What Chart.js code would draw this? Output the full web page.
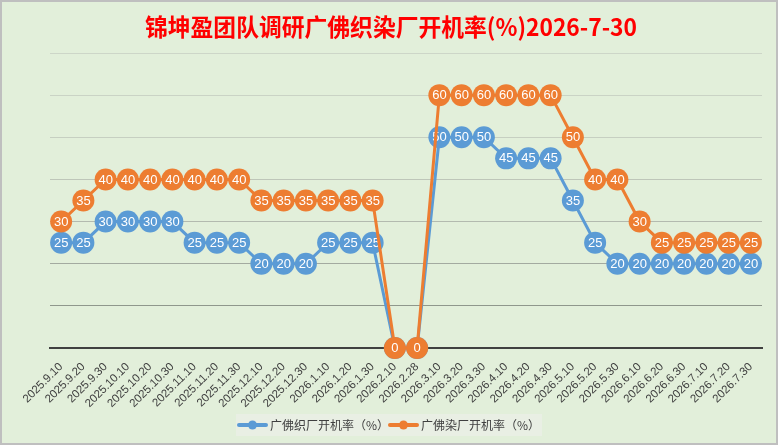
<!DOCTYPE html>
<html>
<head>
<meta charset="utf-8">
<script src="https://cdn.jsdelivr.net/npm/chart.js@4"></script>
<style>
  body { margin: 0; background: #fff; }
  canvas { display: block; }
</style>
</head>
<body>
<canvas id="chart" width="778" height="445"></canvas>
<script>
  // 数据
  const titleText = '锦坤盈团队调研广佛织染厂开机率(%)2026-7-30';
  const dates = [
    '2025.9.10', '2025.9.20', '2025.9.30', '2025.10.10', '2025.10.20', '2025.10.30',
    '2025.11.10', '2025.11.20', '2025.11.30', '2025.12.10', '2025.12.20', '2025.12.30',
    '2026.1.10', '2026.1.20', '2026.1.30', '2026.2.10', '2026.2.28', '2026.3.10',
    '2026.3.20', '2026.3.30', '2026.4.10', '2026.4.20', '2026.4.30', '2026.5.10',
    '2026.5.20', '2026.5.30', '2026.6.10', '2026.6.20', '2026.6.30', '2026.7.10',
    '2026.7.20', '2026.7.30'
  ];
  const weaving = [25, 25, 30, 30, 30, 30, 25, 25, 25, 20, 20, 20, 25, 25, 25, 0, 0,
    50, 50, 50, 45, 45, 45, 35, 25, 20, 20, 20, 20, 20, 20, 20];
  const dyeing = [30, 35, 40, 40, 40, 40, 40, 40, 40, 35, 35, 35, 35, 35, 35, 0, 0,
    60, 60, 60, 60, 60, 60, 50, 40, 40, 30, 25, 25, 25, 25, 25];
  const seriesNames = ['广佛织厂开机率（%）', '广佛染厂开机率（%）'];
  const seriesColors = ['#5B9BD5', '#ED7D31'];

  // 背景、边框、标题、图例
  const decorPlugin = {
    id: 'decor',
    beforeDraw(chart) {
      const ctx = chart.ctx;
      ctx.save();
      ctx.fillStyle = '#E2EFDA';
      ctx.fillRect(0, 0, chart.width, chart.height);
      ctx.strokeStyle = '#BFBFBF';
      ctx.lineWidth = 2;
      ctx.strokeRect(1, 1, chart.width - 2, chart.height - 2);

      // 标题（压窄字体）
      ctx.font = 'bold 24px "Noto Sans CJK SC"';
      ctx.fillStyle = '#FF0000';
      ctx.textBaseline = 'middle';
      const w = ctx.measureText(titleText).width;
      const target = 492;
      ctx.translate(391, 27);
      ctx.scale(target / w, 1);
      ctx.textAlign = 'center';
      ctx.fillText(titleText, 0, 0);
      ctx.restore();
    },
    afterDraw(chart) {
      const ctx = chart.ctx;
      ctx.save();
      ctx.fillStyle = '#E9EFE4';
      ctx.fillRect(236, 414, 306, 22);
      const items = [{ x: 238 }, { x: 389 }];
      ctx.font = '12px "Noto Sans CJK SC"';
      ctx.textBaseline = 'middle';
      items.forEach((it, i) => {
        const y = 425;
        ctx.strokeStyle = seriesColors[i];
        ctx.lineWidth = 4;
        ctx.lineCap = 'round';
        ctx.beginPath();
        ctx.moveTo(it.x + 1, y);
        ctx.lineTo(it.x + 28, y);
        ctx.stroke();
        ctx.fillStyle = seriesColors[i];
        ctx.beginPath();
        ctx.arc(it.x + 14.5, y, 4.5, 0, Math.PI * 2);
        ctx.fill();
        ctx.fillStyle = '#404040';
        ctx.textAlign = 'left';
        ctx.fillText(seriesNames[i], it.x + 32, y);
      });
      ctx.restore();
    },
    // 数据标签画在各自的点上
    afterDatasetDraw(chart, args) {
      const ctx = chart.ctx;
      const ds = chart.data.datasets[args.index];
      ctx.save();
      ctx.font = '13px "Liberation Sans"';
      ctx.fillStyle = '#FFFFFF';
      ctx.textAlign = 'center';
      ctx.textBaseline = 'middle';
      args.meta.data.forEach((pt, i) => {
        ctx.fillText(String(ds.data[i]), pt.x, pt.y + 0.5);
      });
      ctx.restore();
    }
  };

  // 网格线上浅下深
  const gridColors = ['#7E867C', '#8F978C', '#A3AAA0', '#B3BAAF', '#BEC6B9', '#C6CFC1', '#CAD3C5', '#CDD6C8'];

  new Chart(document.getElementById('chart'), {
    type: 'line',
    data: {
      labels: dates,
      datasets: [
        {
          label: seriesNames[0],
          data: weaving,
          borderColor: seriesColors[0],
          backgroundColor: seriesColors[0],
          borderWidth: 3,
          pointRadius: 11,
          pointHoverRadius: 11,
          pointBorderWidth: 0,
          tension: 0,
          clip: false,
          order: 2
        },
        {
          label: seriesNames[1],
          data: dyeing,
          borderColor: seriesColors[1],
          backgroundColor: seriesColors[1],
          borderWidth: 3,
          pointRadius: 11,
          pointHoverRadius: 11,
          pointBorderWidth: 0,
          tension: 0,
          clip: false,
          order: 1
        }
      ]
    },
    options: {
      responsive: false,
      animation: false,
      layout: { padding: { left: 50, right: 16, top: 53, bottom: 37 } },
      plugins: {
        legend: { display: false },
        tooltip: { enabled: false }
      },
      scales: {
        x: {
          offset: true,
          grid: { display: false },
          border: { color: '#404040', width: 2 },
          ticks: {
            autoSkip: false,
            maxRotation: 45,
            minRotation: 45,
            padding: 4,
            color: '#404040',
            font: { family: '"Liberation Sans"', size: 11.5 }
          },
          afterFit(scale) { scale.height = 60; }
        },
        y: {
          min: 0,
          max: 70,
          ticks: { display: false, stepSize: 10 },
          border: { display: false },
          grid: {
            drawTicks: false,
            lineWidth: 1,
            color: (c) => gridColors[c.index] || '#CDD6C8'
          },
          afterFit(scale) { scale.width = 0; }
        }
      }
    },
    plugins: [decorPlugin]
  });
</script>
</body>
</html>
